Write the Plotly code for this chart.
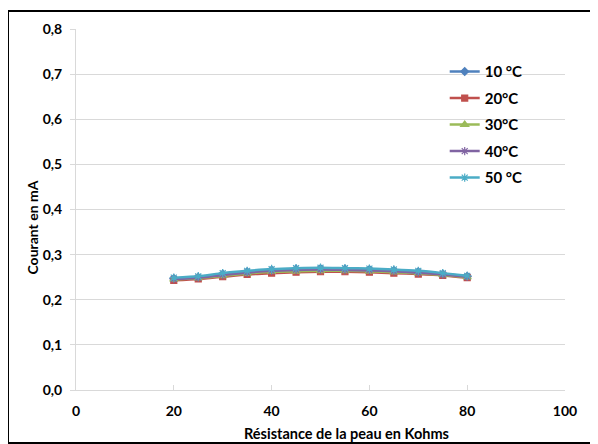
import plotly.graph_objects as go

resistance = [20, 25, 30, 35, 40, 45, 50, 55, 60, 65, 70, 75, 80]
series_names = ["10 °C", "20°C", "30°C", "40°C", "50 °C"]
c10 = [0.247, 0.250, 0.257, 0.262, 0.266, 0.268, 0.269, 0.268, 0.267, 0.265, 0.262, 0.257, 0.252]
c20 = [0.243, 0.246, 0.251, 0.256, 0.259, 0.261, 0.262, 0.262, 0.261, 0.259, 0.257, 0.254, 0.249]
c30 = [0.245, 0.248, 0.253, 0.258, 0.262, 0.263, 0.264, 0.264, 0.263, 0.261, 0.259, 0.255, 0.250]
c40 = [0.246, 0.249, 0.255, 0.260, 0.264, 0.266, 0.267, 0.266, 0.265, 0.263, 0.260, 0.256, 0.251]
c50 = [0.249, 0.252, 0.259, 0.264, 0.268, 0.270, 0.271, 0.270, 0.269, 0.267, 0.264, 0.259, 0.253]
series_values = [c10, c20, c30, c40, c50]
x_ticks = [0, 20, 40, 60, 80, 100]
y_ticks = [0.0, 0.1, 0.2, 0.3, 0.4, 0.5, 0.6, 0.7, 0.8]
x_title = "Résistance de la peau en Kohms"
y_title = "Courant en mA"

colors = ["#4F81BD", "#C0504D", "#9BBB59", "#8064A2", "#4BACC6"]
symbols = ["diamond", "square", "triangle-up", "asterisk", "asterisk"]
sizes = [6, 6, 7, 7, 7]

FONT = "Lato"
W, H = 590, 436
L, R, T, B = 68, 33, 21, 54
pw, ph = W - L - R, H - T - B

fig = go.Figure()
for i, (name, vals) in enumerate(zip(series_names, series_values)):
    fig.add_trace(go.Scatter(
        x=resistance, y=vals, name=name, mode="lines+markers",
        line=dict(color=colors[i], width=2.5, shape="spline", smoothing=0.6),
        marker=dict(symbol=symbols[i], size=sizes[i], color=colors[i],
                    line=dict(color=colors[i], width=1.2)),
        legendgroup=f"g{i}",
    ))

fig.update_layout(
    width=W, height=H,
    margin=dict(l=L, r=R, t=T, b=B, autoexpand=False),
    paper_bgcolor="white", plot_bgcolor="white",
    separators=", ",
    font=dict(family=FONT, size=14, color="black"),
    showlegend=True,
    legend=dict(x=0.754, y=0.927, xanchor="left", yanchor="top",
                bgcolor="rgba(0,0,0,0)", tracegroupgap=4,
                font=dict(family=FONT, size=15, color="black", weight="bold"),
                itemwidth=30),
    xaxis=dict(range=[0, 100], tickvals=x_ticks, showgrid=False, zeroline=False,
               automargin=False,
               showline=True, linecolor="#d9d9d9", linewidth=1,
               ticks="inside", ticklen=5, tickcolor="#d9d9d9", ticklabelstandoff=8,
               tickfont=dict(family=FONT, size=14, color="black", weight="bold")),
    yaxis=dict(range=[0, 0.8], tickvals=y_ticks, tickformat=".1f",
               automargin=False,
               showgrid=True, gridcolor="#d9d9d9", gridwidth=1, zeroline=False,
               showline=True, linecolor="#d9d9d9", linewidth=1,
               ticks="outside", ticklen=5, tickcolor="#d9d9d9", ticklabelstandoff=5,
               tickfont=dict(family=FONT, size=14, color="black", weight="bold")),
)

fig.add_annotation(text=x_title, xref="paper", yref="paper",
                   x=(346.5 - 76) / pw, y=(390 - 433) / ph,
                   xanchor="center", yanchor="middle", showarrow=False,
                   font=dict(family=FONT, size=14.5, color="black", weight="bold"))
fig.add_annotation(text=y_title, xref="paper", yref="paper", textangle=-90,
                   x=(32 - 76) / pw, y=(390 - 227.5) / ph,
                   xanchor="center", yanchor="middle", showarrow=False,
                   font=dict(family=FONT, size=14, color="black", weight="bold"))

fig.add_shape(type="rect", xref="paper", yref="paper",
              x0=(0 - L) / pw, x1=(589 - L) / pw,
              y0=(ph + T - 435) / ph, y1=(ph + T - 3) / ph,
              line=dict(color="black", width=2), fillcolor="rgba(0,0,0,0)", layer="below")

fig.write_html("out.html")
